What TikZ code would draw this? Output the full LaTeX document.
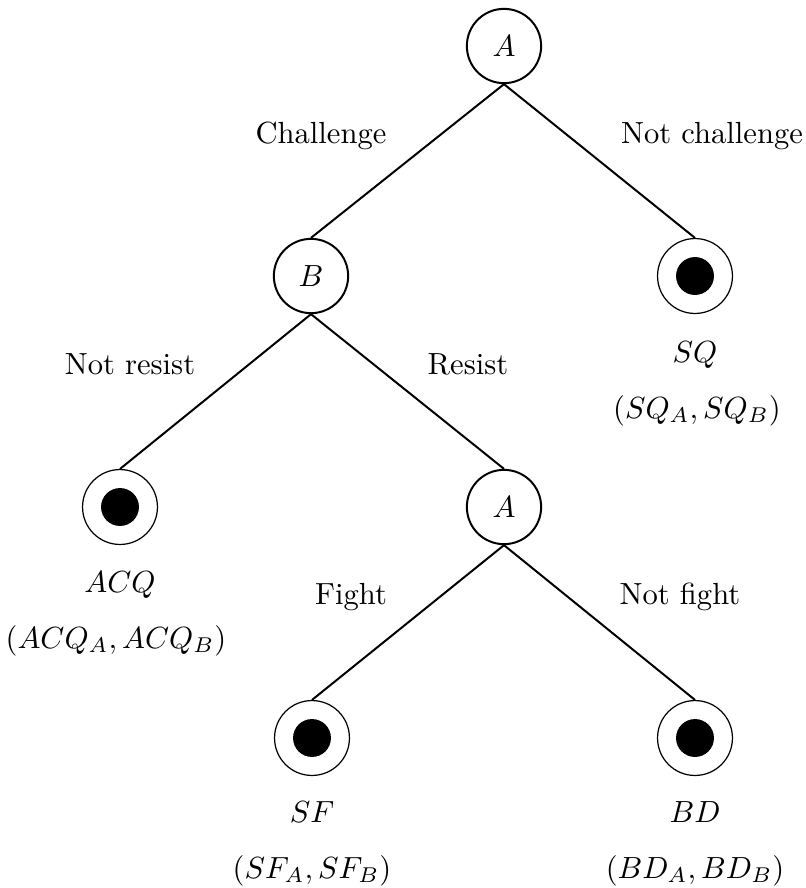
\documentclass[tikz,border=0pt]{standalone}
\begin{document}
\begin{tikzpicture}[x=0.327pt,y=-0.327pt,
  decision/.style={circle,draw,line width=0.65pt,minimum size=24.3pt,inner sep=0pt},
  terminal/.style={circle,draw,line width=0.4pt,minimum size=24.5pt,inner sep=0pt,
    path picture={\fill (path picture bounding box.center) circle (6.2pt);}},
  branch/.style={line width=0.65pt},
  lab/.style={anchor=base,inner sep=0pt}]
\useasboundingbox (0,0) rectangle (806,888);

% players' decision nodes
\node[decision] (a1) at (504,46) {$A$};
\node[decision] (b)  at (311,276) {$B$};
\node[decision] (a2) at (504,507) {$A$};

% outcomes
\node[terminal] (sq)  at (695,276) {};
\node[terminal] (acq) at (120,507) {};
\node[terminal] (sf)  at (312,738) {};
\node[terminal] (bd)  at (695,738) {};

% branches
\draw[branch] (a1.south) -- (b.north);
\draw[branch] (a1.south) -- (sq.north);
\draw[branch] (b.south) -- (acq.north);
\draw[branch] (b.south) -- (a2.north);
\draw[branch] (a2.south) -- (sf.north);
\draw[branch] (a2.south) -- (bd.north);

% action labels
\node[lab] (tchal)  at (321,143) {Challenge};
\node[lab] (tnchal) at (712,143) {Not challenge};
\node[lab] (tnres)  at (130,374) {Not resist};
\node[lab] (tres)   at (468,374) {Resist};
\node[lab] (tfight) at (351,604) {Fight};
\node[lab] (tnfight) at (680,604) {Not fight};

% outcome names and payoffs
\node[lab] (sqname)  at (695,362) {$SQ$};
\node[lab] (sqpay)   at (697,418) {$(SQ_A, SQ_B)$};
\node[lab] (acqname) at (120,592) {$ACQ$};
\node[lab] (acqpay)  at (116,648) {$(ACQ_A, ACQ_B)$};
\node[lab] (sfname)  at (312,822) {$SF$};
\node[lab] (sfpay)   at (312,878) {$(SF_A, SF_B)$};
\node[lab] (bdname)  at (695,822) {$BD$};
\node[lab] (bdpay)   at (695,878) {$(BD_A, BD_B)$};
\end{tikzpicture}
\end{document}
